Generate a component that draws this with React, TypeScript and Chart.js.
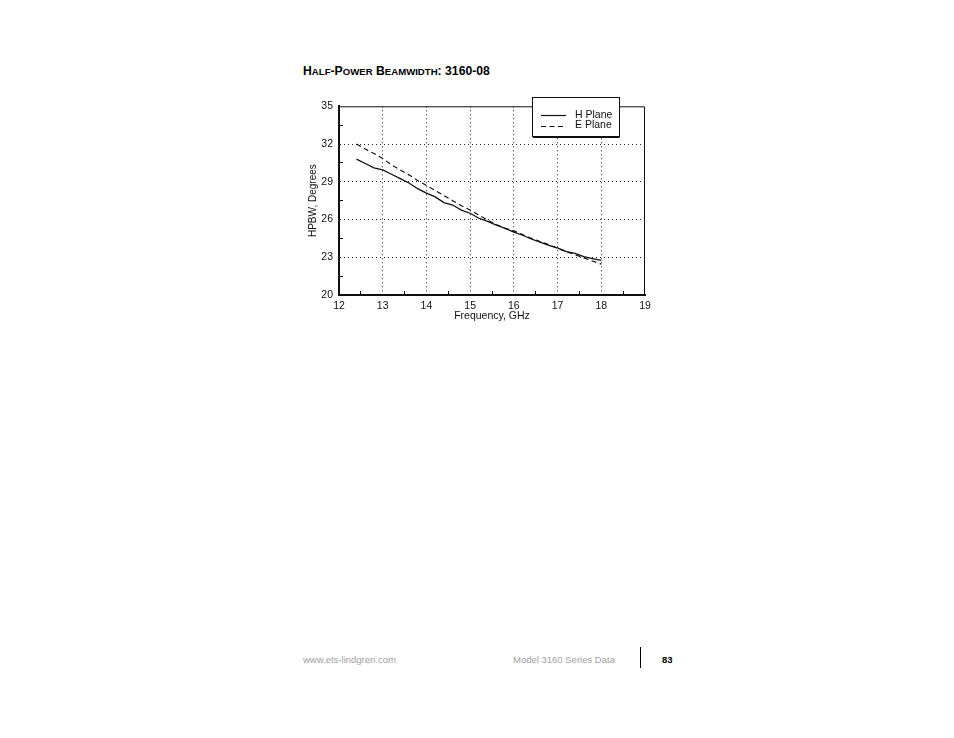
import { useEffect, useRef } from 'react';
import { Chart, registerables } from 'chart.js';

Chart.register(...registerables);

const FONT = '"Liberation Sans", Arial, Helvetica, sans-serif';

// frequency samples (GHz)
const FREQ = [
  12.4, 12.6, 12.8, 13.0, 13.2, 13.4, 13.6, 13.8, 14.0, 14.2, 14.4, 14.6, 14.8, 15.0, 15.2,
  15.4, 15.6, 15.8, 16.0, 16.2, 16.4, 16.6, 16.8, 17.0, 17.2, 17.4, 17.6, 17.8, 18.0,
];

// half-power beamwidth, degrees
const H_PLANE = [
  30.8, 30.45, 30.1, 29.95, 29.6, 29.25, 28.9, 28.45, 28.1, 27.8, 27.35, 27.15, 26.75, 26.5, 26.1,
  25.85, 25.55, 25.3, 25.0, 24.75, 24.45, 24.2, 23.95, 23.75, 23.45, 23.3, 23.05, 22.9, 22.75,
];
const E_PLANE = [
  32.0, 31.6, 31.25, 30.85, 30.35, 29.95, 29.55, 29.1, 28.7, 28.3, 27.9, 27.5, 27.1, 26.75, 26.35,
  25.95, 25.6, 25.3, 25.1, 24.8, 24.5, 24.25, 24.0, 23.7, 23.45, 23.2, 22.95, 22.7, 22.45,
];

const X_LABELS = [12, 13, 14, 15, 16, 17, 18, 19];
const Y_LABELS = [20, 23, 26, 29, 32, 35];

const TITLE = 'Half-Power Beamwidth: 3160-08';

const INK = '#111';
const CLEAR = 'rgba(0,0,0,0)';

// thin top/right frame plus the boxed legend over the top edge
const frameLegend = {
  id: 'frameLegend',
  afterDraw(chart: any) {
    const { ctx, chartArea: a } = chart;
    ctx.save();
    ctx.strokeStyle = INK;
    ctx.lineWidth = 1;
    ctx.beginPath();
    ctx.moveTo(a.left, a.top + 0.5);
    ctx.lineTo(a.right - 0.5, a.top + 0.5);
    ctx.lineTo(a.right - 0.5, a.bottom);
    ctx.stroke();

    const bx = Math.round(a.right - 113), by = Math.round(a.top - 9), bw = 87, bh = 39;
    ctx.fillStyle = '#fff';
    ctx.fillRect(bx, by, bw, bh);
    ctx.strokeRect(bx + 0.5, by + 0.5, bw, bh);
    ctx.beginPath();
    ctx.moveTo(bx + 1, by + bh + 1.5);
    ctx.lineTo(bx + bw + 0.5, by + bh + 1.5);
    ctx.stroke();

    ctx.font = `10.5px ${FONT}`;
    ctx.textBaseline = 'middle';
    chart.data.datasets.forEach((ds: any, i: number) => {
      const y = by + 18 + i * 10.5;
      ctx.setLineDash(ds.borderDash || []);
      ctx.lineWidth = 1.2;
      ctx.beginPath();
      ctx.moveTo(bx + 9, Math.round(y) + 0.5);
      ctx.lineTo(bx + 34, Math.round(y) + 0.5);
      ctx.stroke();
      ctx.setLineDash([]);
      ctx.fillStyle = INK;
      ctx.fillText(ds.label, bx + 43, y);
    });
    ctx.restore();
  },
};

function BeamwidthChart() {
  const canvasRef = useRef<HTMLCanvasElement>(null);
  const chartRef = useRef<Chart | null>(null);

  useEffect(() => {
    if (!canvasRef.current) return;
    if (chartRef.current) chartRef.current.destroy();

    const gridColor = (labels: number[], lo: number, hi: number) => (c: any) => {
      const v = c.tick ? c.tick.value : NaN;
      return labels.includes(v) && v !== lo && v !== hi ? '#222' : CLEAR;
    };
    const tickColor = (labels: number[]) => (c: any) => {
      const v = c.tick ? c.tick.value : NaN;
      return labels.includes(v) ? CLEAR : INK;
    };

    chartRef.current = new Chart(canvasRef.current, {
      type: 'line',
      data: {
        datasets: [
          {
            label: 'H Plane',
            data: FREQ.map((f, i) => ({ x: f, y: H_PLANE[i] })),
            borderColor: INK,
            borderWidth: 1.3,
            pointRadius: 0,
            fill: false,
          },
          {
            label: 'E Plane',
            data: FREQ.map((f, i) => ({ x: f, y: E_PLANE[i] })),
            borderColor: INK,
            borderWidth: 1.2,
            borderDash: [5, 3.5],
            pointRadius: 0,
            fill: false,
          },
        ],
      },
      options: {
        animation: false,
        responsive: true,
        maintainAspectRatio: false,
        layout: { padding: { top: 16, right: 15, left: 0, bottom: 0 } },
        plugins: { legend: { display: false }, tooltip: { enabled: false } },
        scales: {
          x: {
            type: 'linear',
            min: 12,
            max: 19,
            afterFit: (s: any) => { s.height = 35; },
            ticks: {
              stepSize: 0.5,
              autoSkip: false,
              maxRotation: 0,
              padding: 9,
              color: INK,
              font: { family: FONT, size: 10.5 },
              callback: (v: any) => (X_LABELS.includes(Number(v)) ? String(v) : ''),
            },
            grid: {
              color: gridColor(X_LABELS, 12, 19),
              tickColor: tickColor(X_LABELS),
              tickLength: -4,
              lineWidth: 1,
              tickBorderDash: [],
            },
            border: { display: true, color: INK, width: 2, dash: [1, 3] },
            title: {
              display: true,
              text: 'Frequency, GHz',
              color: INK,
              font: { family: FONT, size: 10.5 },
              padding: { top: 0, bottom: 8 },
            },
          },
          y: {
            type: 'linear',
            min: 20,
            max: 35,
            afterFit: (s: any) => { s.width = 49; },
            ticks: {
              stepSize: 1.5,
              autoSkip: false,
              padding: 10,
              color: INK,
              font: { family: FONT, size: 10.5 },
              callback: (v: any) => (Y_LABELS.includes(Number(v)) ? String(v) : ''),
            },
            grid: {
              color: gridColor(Y_LABELS, 20, 35),
              tickColor: tickColor(Y_LABELS),
              tickLength: -4,
              lineWidth: 1,
              tickBorderDash: [],
            },
            border: { display: true, color: INK, width: 2, dash: [1, 3] },
            title: {
              display: true,
              text: 'HPBW, Degrees',
              color: INK,
              font: { family: FONT, size: 10 },
              padding: { top: 17, bottom: 0 },
            },
          },
        },
      },
      plugins: [frameLegend],
    } as any);

    return () => {
      if (chartRef.current) { chartRef.current.destroy(); chartRef.current = null; }
    };
  }, []);

  return (
    <div style={{ position: 'absolute', left: 290, top: 90, width: 370, height: 240 }}>
      <canvas ref={canvasRef} />
    </div>
  );
}

// small caps drawn by hand: capitals full size, lower case as smaller capitals
function SmallCaps({ text }: { text: string }) {
  return (
    <>
      {text.split('').map((ch, i) =>
        ch >= 'a' && ch <= 'z'
          ? <span key={i} style={{ fontSize: 9.6 }}>{ch.toUpperCase()}</span>
          : <span key={i}>{ch}</span>
      )}
    </>
  );
}

export default function App() {
  return (
    <div style={{ position: 'absolute', left: 0, top: 0, width: 954, height: 738, background: '#fff', fontFamily: FONT }}>
      <div
        style={{
          position: 'absolute', left: 303, top: 65, fontSize: 12.2, lineHeight: '12px',
          fontWeight: 'bold', color: '#000', whiteSpace: 'nowrap',
        }}
      >
        <SmallCaps text={TITLE} />
      </div>

      <BeamwidthChart />

      <div style={{ position: 'absolute', left: 303, top: 655, fontSize: 9.5, lineHeight: '9.5px', color: '#a0a0a0', whiteSpace: 'nowrap' }}>
        www.ets-lindgren.com
      </div>
      <div style={{ position: 'absolute', left: 513, top: 655, fontSize: 9.5, lineHeight: '9.5px', color: '#a0a0a0', whiteSpace: 'nowrap' }}>
        Model 3160 Series Data
      </div>
      <div style={{ position: 'absolute', left: 640, top: 647, width: 1, height: 21, background: '#000' }} />
      <div style={{ position: 'absolute', left: 662, top: 655, fontSize: 9.5, lineHeight: '9.5px', fontWeight: 'bold', color: '#000' }}>
        83
      </div>
    </div>
  );
}
